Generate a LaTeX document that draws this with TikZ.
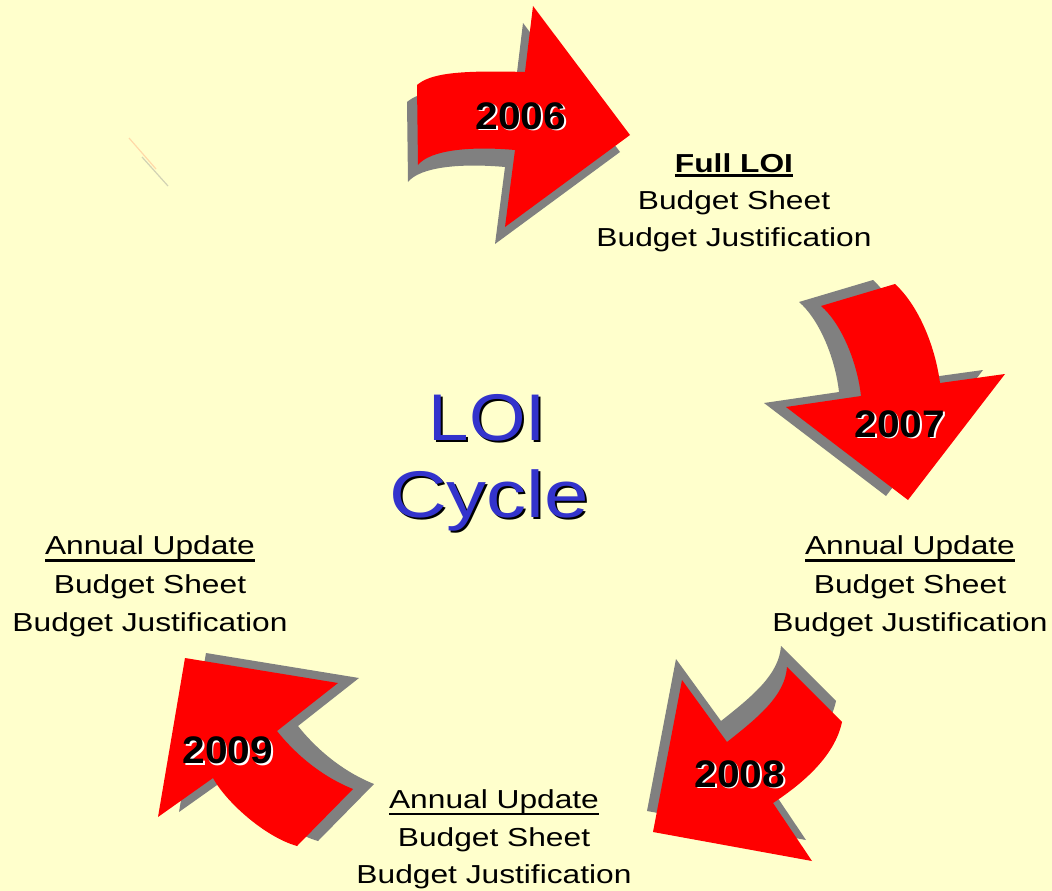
\documentclass[tikz,border=0pt]{standalone}
\usepackage{fontspec}
\setmainfont{Liberation Sans}
\usetikzlibrary{calc}

\definecolor{paper}{HTML}{FFFFCC}
\definecolor{arrowred}{HTML}{FF0000}
\definecolor{arrowshade}{HTML}{808080}
\definecolor{titleblue}{HTML}{3333CC}
\definecolor{strokeA}{HTML}{FFD9A8}
\definecolor{strokeB}{HTML}{D2D2B4}

% horizontally widened text
\newcommand\wide[2]{\scalebox{#1}[1]{#2}}
% text with a drawn underline: #1 = raise, #2 = thickness
\newcommand\mkul[3]{\setbox0\hbox{#3}\rlap{\rule[-#1]{\wd0}{#2}}\box0}

\tikzset{
  line/.style={inner sep=0pt, anchor=base, font=\fontsize{26}{30}\selectfont},
  year/.style={inner sep=0pt, anchor=base, font=\bfseries\fontsize{38.4}{40}\selectfont},
  title/.style={inner sep=0pt, anchor=base, font=\fontsize{66}{70}\selectfont},
}

\begin{document}
\begin{tikzpicture}[x=1pt,y=-1pt]
  \fill[paper] (0,0) rectangle (1052,891);
  \useasboundingbox (0,0) rectangle (1052,891);

  % faint strokes
  \draw[strokeA, line width=1.2pt] (129,138) -- (156,169);
  \draw[strokeB, line width=1.2pt] (142,157) -- (168,186);

  % curved arrows: shade first, then the red face
  \foreach \dx/\dy/\c in {-10/17/arrowshade, 0/0/arrowred}
    \fill[\c, shift={(\dx,\dy)}] (417,85) .. controls (430,74) and (455,70) .. (525,72)
      -- (533,6) -- (630,135) -- (505,227) -- (515,150)
      .. controls (470,146) and (430,150) .. (418,165) -- cycle;

  \foreach \dx/\dy/\c in {-22/-4/arrowshade, 0/0/arrowred}
    \fill[\c, shift={(\dx,\dy)}] (821,306) -- (895,284)
      .. controls (918,305) and (935,345) .. (940,383)
      -- (1005,374) -- (908,500) -- (786,407) -- (861,396)
      .. controls (857,360) and (840,322) .. (821,306) -- cycle;

  \foreach \dx/\dy/\c in {-6/-21/arrowshade, 0/0/arrowred}
    \fill[\c, shift={(\dx,\dy)}] (787,667) -- (842,722)
      .. controls (835,755) and (805,782) .. (773,803)
      -- (812,861) -- (653,832) -- (682,680) -- (727,742)
      .. controls (760,716) and (785,695) .. (787,667) -- cycle;

  \foreach \dx/\dy/\c in {21/-5/arrowshade, 0/0/arrowred}
    \fill[\c, shift={(\dx,\dy)}] (158,817) -- (185,658) -- (338,683) -- (277,731)
      .. controls (292,750) and (318,775) .. (353,789)
      -- (297,846) .. controls (265,837) and (226,802) .. (213,778) -- cycle;

  % year labels with a white offset copy
  \node[year, white] (y2006s) at (522.5,130.5) {\wide{1.06}{2006}};
  \node[year]        (y2006)  at (521,129)     {\wide{1.06}{2006}};
  \node[year, white] (y2007s) at (901.5,438.5) {\wide{1.06}{2007}};
  \node[year]        (y2007)  at (900,437)     {\wide{1.06}{2007}};
  \node[year, white] (y2008s) at (741.5,788.5) {\wide{1.06}{2008}};
  \node[year]        (y2008)  at (740,787)     {\wide{1.06}{2008}};
  \node[year, white] (y2009s) at (229.5,765)   {\wide{1.06}{2009}};
  \node[year]        (y2009)  at (228,763.5)   {\wide{1.06}{2009}};

  % centre title with a dark offset copy
  \node[title, black]      (loiS)   at (489.5,442) {\wide{1.10}{LOI}};
  \node[title, titleblue]  (loi)    at (487.5,440) {\wide{1.10}{LOI}};
  \node[title, black]      (cycleS) at (491,519) {\wide{1.21}{Cycle}};
  \node[title, titleblue]  (cycle)  at (489,517) {\wide{1.21}{Cycle}};

  % 2006 deliverables
  \node[line] (fullA) at (734,172) {\wide{1.22}{\mkul{5pt}{3pt}{\bfseries Full LOI}}};
  \node[line] (fullB) at (734,209) {\wide{1.22}{Budget Sheet}};
  \node[line] (fullC) at (734,246.5) {\wide{1.22}{Budget Justification}};

  % 2007 deliverables
  \node[line] (rightA) at (910,554.5) {\wide{1.22}{\mkul{7pt}{2.5pt}{Annual Update}}};
  \node[line] (rightB) at (910,593.5) {\wide{1.22}{Budget Sheet}};
  \node[line] (rightC) at (910,631)   {\wide{1.22}{Budget Justification}};

  % 2008 deliverables
  \node[line] (botA) at (494,808)   {\wide{1.22}{\mkul{7pt}{2.5pt}{Annual Update}}};
  \node[line] (botB) at (494,846)   {\wide{1.22}{Budget Sheet}};
  \node[line] (botC) at (494,883.5) {\wide{1.22}{Budget Justification}};

  % 2009 deliverables
  \node[line] (leftA) at (150,554.5) {\wide{1.22}{\mkul{7pt}{2.5pt}{Annual Update}}};
  \node[line] (leftB) at (150,593.5) {\wide{1.22}{Budget Sheet}};
  \node[line] (leftC) at (150,631)   {\wide{1.22}{Budget Justification}};
\end{tikzpicture}
\end{document}
